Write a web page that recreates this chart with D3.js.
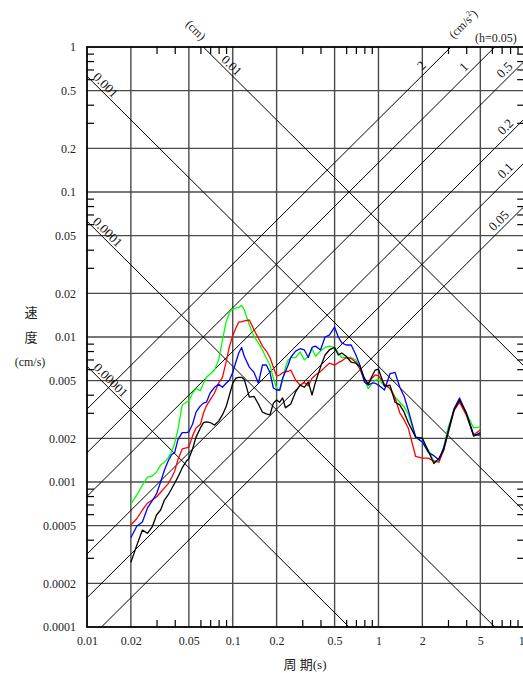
<!DOCTYPE html>
<html><head><meta charset="utf-8">
<script src="https://cdn.jsdelivr.net/npm/d3@7"></script>
<style>body{margin:0;background:#fff}</style>
</head><body><svg id="c" width="523" height="673"></svg>
<script>
const periods=[0.02,0.022,0.024,0.026,0.028,0.03,0.032,0.034,0.036,0.038,0.04,0.042,0.045,0.048,0.05,0.053,0.056,0.06,0.063,0.066,0.07,0.075,0.08,0.085,0.09,0.095,0.1,0.105,0.11,0.115,0.12,0.13,0.14,0.15,0.16,0.17,0.18,0.19,0.2,0.21,0.22,0.23,0.24,0.25,0.27,0.29,0.31,0.33,0.35,0.37,0.4,0.43,0.46,0.5,0.53,0.56,0.6,0.65,0.7,0.75,0.8,0.85,0.9,0.95,1.0,1.1,1.2,1.3,1.4,1.5,1.6,1.8,2.0,2.2,2.4,2.6,2.8,3.0,3.3,3.6,4.0,4.5,5.0];
const greenV=[0.000705,0.000814,0.000953,0.00108,0.00110,0.00117,0.00131,0.00137,0.00146,0.00161,0.00186,0.00229,0.00340,0.00355,0.00360,0.00411,0.00440,0.00427,0.00480,0.00527,0.00556,0.00592,0.00694,0.00953,0.0127,0.0148,0.0156,0.0158,0.0160,0.0165,0.0154,0.0121,0.0101,0.0091,0.00814,0.00714,0.00641,0.0052,0.00445,0.00427,0.00505,0.0062,0.00694,0.0072,0.0072,0.0079,0.00694,0.00737,0.0083,0.00737,0.0080,0.00847,0.00865,0.00847,0.00776,0.00722,0.00722,0.00722,0.00694,0.0062,0.0052,0.0044,0.00475,0.00505,0.0051,0.00458,0.0045,0.00385,0.00355,0.0033,0.00295,0.00204,0.00189,0.00166,0.00139,0.00142,0.00172,0.00236,0.00314,0.00368,0.0030,0.00236,0.00239];
const redV=[0.000505,0.00056,0.000641,0.000714,0.000751,0.000787,0.00085,0.00091,0.00097,0.00107,0.00119,0.00142,0.00169,0.00172,0.00174,0.00208,0.00236,0.0025,0.00299,0.00335,0.00368,0.00411,0.0048,0.00527,0.0067,0.00865,0.0102,0.0115,0.0127,0.0127,0.0129,0.0131,0.0112,0.0098,0.00865,0.008,0.00722,0.00619,0.00538,0.00547,0.00567,0.00578,0.00578,0.00592,0.00505,0.00466,0.00485,0.0046,0.0052,0.00547,0.00578,0.0062,0.0066,0.0064,0.00665,0.00684,0.00722,0.0071,0.0067,0.00592,0.00505,0.00473,0.0052,0.00547,0.0054,0.00473,0.0044,0.0038,0.0030,0.00268,0.00236,0.0015,0.00146,0.00146,0.00139,0.00137,0.00166,0.00215,0.0031,0.00355,0.0029,0.00211,0.00229];
const blueV=[0.000413,0.000497,0.00053,0.000662,0.00074,0.000827,0.001,0.00121,0.00139,0.00154,0.0016,0.00195,0.00219,0.00219,0.00222,0.0025,0.00303,0.00335,0.0035,0.00355,0.00411,0.0045,0.00473,0.0045,0.0048,0.00505,0.0057,0.0067,0.00775,0.00847,0.00737,0.0062,0.0057,0.0048,0.00641,0.00641,0.0057,0.00445,0.00431,0.00431,0.0052,0.00578,0.00641,0.00722,0.008,0.0083,0.00814,0.00722,0.00847,0.00865,0.00814,0.01,0.0103,0.0117,0.01,0.0091,0.00881,0.00881,0.00751,0.0063,0.0049,0.00466,0.0048,0.0048,0.00466,0.00431,0.0056,0.0057,0.0045,0.0039,0.00314,0.00204,0.00189,0.0016,0.00152,0.00142,0.00172,0.00222,0.0032,0.0038,0.003,0.00211,0.00211];
const blackV=[0.000279,0.000368,0.000466,0.000443,0.00049,0.000592,0.000641,0.000751,0.000814,0.000895,0.000984,0.00108,0.00125,0.00139,0.00145,0.00169,0.00204,0.00236,0.00257,0.0026,0.00257,0.00247,0.00263,0.0029,0.0033,0.00398,0.0048,0.0052,0.00527,0.00527,0.0051,0.00385,0.0039,0.00345,0.00303,0.00295,0.0029,0.0035,0.00368,0.00355,0.0038,0.00325,0.00335,0.00345,0.00418,0.00466,0.0045,0.0049,0.00398,0.0049,0.0062,0.00751,0.00814,0.00847,0.00751,0.00776,0.00737,0.0067,0.0066,0.0062,0.0052,0.00473,0.00534,0.00592,0.006,0.00458,0.00466,0.00355,0.0034,0.00303,0.00257,0.00204,0.00201,0.00163,0.00134,0.00146,0.00166,0.00219,0.00314,0.00368,0.003,0.00207,0.00219];
const xTickLabels=[0.01,0.02,0.05,0.1,0.2,0.5,1,2,5,10];
const yTickLabels=[1,0.5,0.2,0.1,0.05,0.02,0.01,0.005,0.002,0.001,0.0005,0.0002,0.0001];
const dispLines=[0.01,0.001,0.0001,0.00001];
const dispLabels=["0.01","0.001","0.0001","0.00001"];
const accLines=[2,1,0.5,0.2,0.1,0.05];
const accLabels=["2","1","0.5","0.2","0.1","0.05"];

const svg=d3.select("#c");
const L=87,R=524.2,T=47,B=627;
const x=d3.scaleLog().domain([0.01,10]).range([L,R]);
const y=d3.scaleLog().domain([0.0001,1]).range([B,T]);
const serif="'Liberation Serif','DejaVu Serif',serif";
const cjk="'Liberation Serif','Noto Sans CJK JP',serif";
svg.append("defs").append("clipPath").attr("id","clip")
  .append("rect").attr("x",L).attr("y",T).attr("width",R-L).attr("height",B-T);

// major grid
const xMajor=[0.02,0.05,0.1,0.2,0.5,1,2,5];
const yMajor=[0.0002,0.0005,0.001,0.002,0.005,0.01,0.02,0.05,0.1,0.2,0.5];
const grid=svg.append("g").attr("stroke","#4a4a4a").attr("stroke-width",1.4);
grid.selectAll(".vx").data(xMajor).join("line").attr("x1",d=>x(d)).attr("x2",d=>x(d)).attr("y1",T).attr("y2",B);
grid.selectAll(".hy").data(yMajor).join("line").attr("y1",d=>y(d)).attr("y2",d=>y(d)).attr("x1",L).attr("x2",R);

// minor ticks
const mult=[3,4,6,7,8,9];
const xMinor=[0.01,0.1,1].flatMap(d=>mult.map(m=>+(m*d).toPrecision(3)));
const yMinor=[0.0001,0.001,0.01,0.1].flatMap(d=>mult.map(m=>+(m*d).toPrecision(3)));
function styleAxis(g){g.select(".domain").remove();g.selectAll("line").attr("stroke","#000").attr("stroke-width",1.2);}
svg.append("g").attr("transform",`translate(0,${B})`).call(d3.axisTop(x).tickValues(xMinor).tickSize(7).tickFormat("")).call(styleAxis);
svg.append("g").attr("transform",`translate(0,${T})`).call(d3.axisBottom(x).tickValues(xMinor).tickSize(7).tickFormat("")).call(styleAxis);
svg.append("g").attr("transform",`translate(${L},0)`).call(d3.axisRight(y).tickValues(yMinor).tickSize(7).tickFormat("")).call(styleAxis);
svg.append("g").attr("transform",`translate(${R},0)`).call(d3.axisLeft(y).tickValues(yMinor).tickSize(7).tickFormat("")).call(styleAxis);

// diagonal lines
const diag=svg.append("g").attr("clip-path","url(#clip)").attr("stroke","#000").attr("stroke-width",1).attr("fill","none");
const TW=2*Math.PI;
diag.selectAll(".d").data(dispLines).join("line")
  .attr("x1",x(0.01)).attr("y1",D=>y(TW*D/0.01)).attr("x2",x(10)).attr("y2",D=>y(TW*D/10));
diag.selectAll(".a").data(accLines).join("line")
  .attr("x1",x(0.01)).attr("y1",A=>y(A*0.01/TW)).attr("x2",x(10)).attr("y2",A=>y(A*10/TW));

// diagonal labels
const dispLabT=[0.0909,0.01243,0.01283,0.01346];
const accLabT=[2.15,4.2,8.0,8.1,8.1,7.3];
const lab=svg.append("g").attr("font-family",serif).attr("font-size",13).attr("fill","#111").attr("text-anchor","middle");
dispLines.forEach((D,i)=>{
  const t=dispLabT[i];
  lab.append("text").attr("transform",`translate(${x(t)},${y(TW*D/t)}) rotate(45)`).attr("dy",-2.5).text(dispLabels[i]);
});
accLines.forEach((A,i)=>{
  const t=accLabT[i];
  lab.append("text").attr("transform",`translate(${x(t)},${y(A*t/TW)}) rotate(-45)`).attr("dy",-3.5).text(accLabels[i]);
});

// curves
const line=d3.line().x(d=>x(d.t)).y(d=>y(d.v));
const series=[{v:greenV,c:"#00ff00"},{v:redV,c:"#ff0000"},{v:blueV,c:"#0000ff"},{v:blackV,c:"#000000"}];
const cg=svg.append("g").attr("clip-path","url(#clip)");
series.forEach(s=>{
  cg.append("path").datum(periods.map((t,i)=>({t,v:s.v[i]})))
    .attr("d",line).attr("fill","none").attr("stroke",s.c).attr("stroke-width",1.3).attr("stroke-linejoin","round");
});

// frame
svg.append("rect").attr("x",L).attr("y",T).attr("width",R-L).attr("height",B-T)
  .attr("fill","none").attr("stroke","#000").attr("stroke-width",1.8);

// tick labels
const xa=svg.append("g").attr("transform",`translate(0,${B})`)
  .call(d3.axisBottom(x).tickValues(xTickLabels).tickSize(0).tickPadding(9).tickFormat(d=>String(d)));
xa.select(".domain").remove();
xa.selectAll("text").attr("font-family",serif).attr("font-size",12).attr("fill","#222");
const ya=svg.append("g").attr("transform",`translate(${L},0)`)
  .call(d3.axisLeft(y).tickValues(yTickLabels).tickSize(0).tickPadding(11).tickFormat(d=>String(d)));
ya.select(".domain").remove();
ya.selectAll("text").attr("font-family",serif).attr("font-size",12).attr("fill","#222");

// titles
const tt=svg.append("g").attr("font-family",cjk).attr("fill","#222").attr("text-anchor","middle");
tt.append("text").attr("x",31).attr("y",317).attr("font-size",13).text("速");
tt.append("text").attr("x",31).attr("y",342).attr("font-size",13).text("度");
tt.append("text").attr("x",30).attr("y",366).attr("font-size",12).attr("font-family",serif).text("(cm/s)");
tt.append("text").attr("x",305).attr("y",669).attr("font-size",13).text("周 期(s)");
tt.append("text").attr("transform","translate(196,30) rotate(45)").attr("dy","0.35em").attr("font-size",12).attr("font-family",serif).text("(cm)");
const cs=tt.append("text").attr("transform","translate(463,24) rotate(-45)").attr("dy","0.35em").attr("font-size",12).attr("font-family",serif);
cs.append("tspan").text("(cm/s");
cs.append("tspan").attr("font-size",8).attr("dy",-5).text("2");
cs.append("tspan").attr("dy",5).text(")");
tt.append("text").attr("x",496).attr("y",42).attr("font-size",12).attr("font-family",serif).text("(h=0.05)");
</script></body></html>
